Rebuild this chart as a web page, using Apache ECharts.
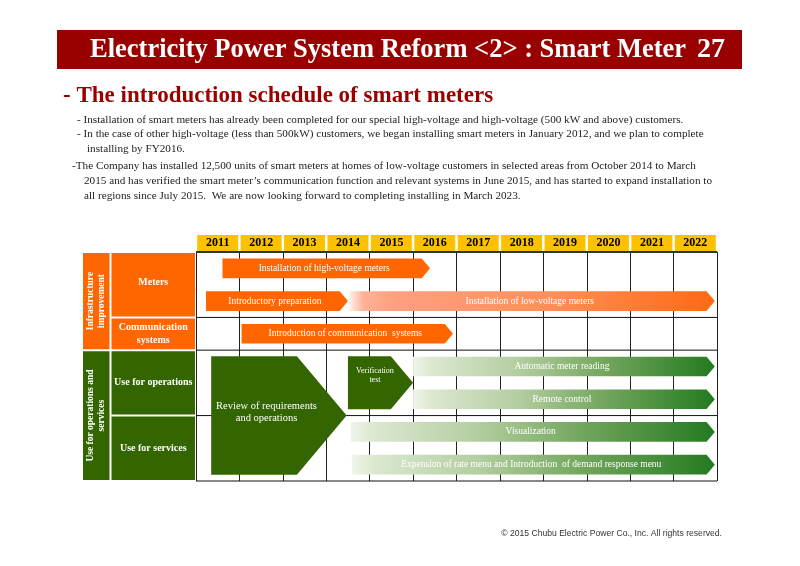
<!DOCTYPE html>
<html>
<head>
<meta charset="utf-8">
<script src="https://cdn.jsdelivr.net/npm/echarts@6/dist/echarts.min.js"></script>
<style>
  html, body { margin: 0; padding: 0; background: #fff; }
  #chart { width: 800px; height: 566px; }
</style>
</head>
<body>
<div id="chart"></div>
<script>
// schedule columns (fiscal years)
const years = ['2011', '2012', '2013', '2014', '2015', '2016', '2017', '2018', '2019', '2020', '2021', '2022']

// left-hand labels: groups -> rows -> lanes
const groupLabels = ['Infrastructure\nimprovement', 'Use for operations and\nservices']
const groupRowCount = [2, 2]
const rowLabels = ['Meters', 'Communication\nsystems', 'Use for operations', 'Use for services']
const rowLanes = [2, 1, 2, 2]

// tasks (start / end in years, lane index, lanes spanned)
const taskNames = [
  'Installation of high-voltage meters',
  'Introductory preparation',
  'Installation of low-voltage meters',
  'Introduction of communication  systems',
  'Review of requirements\nand operations',
  'Verification\ntest',
  'Automatic meter reading',
  'Remote control',
  'Visualization',
  'Expension of rate menu and Introduction  of demand response menu'
]
const taskStart = [2011.61, 2011.23, 2014.52, 2012.05, 2011.35, 2014.5, 2016.0, 2016.0, 2014.56, 2014.59]
const taskEnd = [2016.39, 2014.5, 2022.95, 2016.92, 2014.47, 2016.0, 2022.95, 2022.95, 2022.95, 2022.95]
const taskLane = [0, 1, 1, 2, 3, 3, 3, 4, 5, 6]
const taskSpan = [1, 1, 1, 1, 4, 2, 1, 1, 1, 1]
const taskKind = ['orange', 'orange', 'orangeFade', 'orange', 'green', 'green', 'greenFade', 'greenFade', 'greenFade', 'greenFade']

const noteLines = [
  '- Installation of smart meters has already been completed for our special high-voltage and high-voltage (500 kW and above) customers.',
  '- In the case of other high-voltage (less than 500kW) customers, we began installing smart meters in January 2012, and we plan to complete',
  'installing by FY2016.',
  '-The Company has installed 12,500 units of smart meters at homes of low-voltage customers in selected areas from October 2014 to March',
  '2015 and has verified the smart meter\u2019s communication function and relevant systems in June 2015, and has started to expand installation to',
  'all regions since July 2015.  We are now looking forward to completing installing in March 2023.'
]

const SERIF = '"Liberation Serif", "Times New Roman", serif'
const ORANGE = '#FF6600'
const GREEN = '#336600'
const fills = {
  orange: ORANGE,
  green: GREEN,
  orangeFade: {
    type: 'linear', x: 0, y: 0, x2: 1, y2: 0,
    colorStops: [
      { offset: 0, color: '#FFF4EE' },
      { offset: 0.04, color: '#FFB295' },
      { offset: 0.12, color: '#FFA080' },
      { offset: 0.55, color: '#FF8E58' },
      { offset: 1, color: '#FF6A12' }
    ]
  },
  greenFade: {
    type: 'linear', x: 0, y: 0, x2: 1, y2: 0,
    colorStops: [
      { offset: 0, color: '#F0F5EA' },
      { offset: 0.06, color: '#DCE8D0' },
      { offset: 0.35, color: '#B3CDA0' },
      { offset: 0.65, color: '#6FA45A' },
      { offset: 1, color: '#237A20' }
    ]
  }
}

const laneTotal = rowLanes.reduce((a, b) => a + b, 0)
const rowStarts = []
rowLanes.reduce((acc, n) => { rowStarts.push(acc); return acc + n }, 0)
const boundaries = rowStarts.concat([laneTotal])

const taskData = taskNames.map((name, i) => [taskStart[i], taskEnd[i], taskLane[i], taskSpan[i], i])

const cellData = []
let r = 0
groupLabels.forEach((g, gi) => {
  const first = r
  const last = r + groupRowCount[gi]
  cellData.push([0, 1, rowStarts[first], boundaries[last], 'group', gi])
  for (let k = first; k < last; k++) {
    cellData.push([1, 4, rowStarts[k], boundaries[k + 1], 'row', k])
  }
  r = last
})

function renderTask (params, api) {
  const i = api.value(4)
  const pad = taskSpan[i] > 1 ? 0.19 : 0.2
  const a = api.coord([api.value(0), api.value(2) + pad])
  const b = api.coord([api.value(1), api.value(2) + api.value(3) - pad])
  const h = b[1] - a[1]
  const head = h * 0.42
  const xb = b[0] - head
  const ym = (a[1] + b[1]) / 2
  const big = taskSpan[i] > 1
  const fontSize = taskSpan[i] === 4 ? 10.5 : (taskSpan[i] === 2 ? 8 : 9.5)
  return {
    type: 'group',
    children: [{
      type: 'polygon',
      shape: { points: [[a[0], a[1]], [xb, a[1]], [b[0], ym], [xb, b[1]], [a[0], b[1]]] },
      style: { fill: fills[taskKind[i]] }
    }, {
      type: 'text',
      style: {
        text: taskNames[i],
        x: (a[0] + b[0] - head / 2) / 2,
        y: big ? ym - (taskSpan[i] === 4 ? 3 : 7) : ym,
        align: 'center',
        verticalAlign: 'middle',
        fill: '#fff',
        font: fontSize + 'px ' + SERIF,
        lineHeight: taskSpan[i] === 4 ? 12 : 9
      }
    }]
  }
}

function renderCell (params, api) {
  const a = api.coord([api.value(0), api.value(2)])
  const b = api.coord([api.value(1), api.value(3)])
  const kind = api.value(4)
  const idx = api.value(5)
  const isGroup = kind === 'group'
  const gi = isGroup ? idx : (idx < groupRowCount[0] ? 0 : 1)
  const inset = 1
  const x = a[0] + inset
  const y = a[1] + inset
  const w = b[0] - a[0] - inset * 2
  const h = b[1] - a[1] - inset * 2
  const cx = x + w / 2
  const cy = y + h / 2
  return {
    type: 'group',
    children: [{
      type: 'rect',
      shape: { x, y, width: w, height: h },
      style: { fill: gi === 0 ? ORANGE : GREEN }
    }, {
      type: 'text',
      x: cx,
      y: isGroup ? cy : cy - (idx === 0 ? 2 : 0),
      rotation: isGroup ? Math.PI / 2 : 0,
      style: {
        text: isGroup ? groupLabels[idx] : rowLabels[idx],
        x: 0,
        y: 0,
        align: 'center',
        verticalAlign: 'middle',
        fill: '#fff',
        font: (isGroup ? 'bold 9.5px ' : 'bold 10px ') + SERIF,
        lineHeight: isGroup ? 11 : 13
      }
    }]
  }
}

function renderRowLine (params, api) {
  const y = api.value(0)
  const a = api.coord([2011, y])
  const b = api.coord([2023, y])
  const top = y === 0
  return {
    type: 'line',
    shape: { x1: a[0], y1: a[1], x2: b[0], y2: b[1] },
    style: { stroke: top ? '#333' : '#111', lineWidth: top ? 2 : 1 }
  }
}

const noteX = [77, 77, 87, 72, 84, 84]
const noteY = [120, 134.5, 149, 166, 181, 196]

const graphic = [
  { type: 'rect', shape: { x: 57, y: 30, width: 685, height: 39 }, style: { fill: '#990000' } },
  {
    type: 'text', x: 90, y: 50,
    style: { text: 'Electricity Power System Reform <2> : Smart Meter', font: 'bold 26.5px ' + SERIF, fill: '#fff', verticalAlign: 'middle' }
  },
  {
    type: 'text', x: 697, y: 50,
    style: { text: '27', font: 'bold 28px ' + SERIF, fill: '#fff', verticalAlign: 'middle' }
  },
  {
    type: 'text', x: 63, y: 96,
    style: { text: '- The introduction schedule of smart meters', font: 'bold 23px ' + SERIF, fill: '#990000', verticalAlign: 'middle' }
  },
  {
    type: 'text', x: 722, y: 534,
    style: { text: '\u00A9 2015 Chubu Electric Power Co., Inc. All rights reserved.', font: '8.6px "Liberation Sans", Arial, sans-serif', fill: '#333', align: 'right', verticalAlign: 'middle' }
  }
].concat(noteLines.map((t, i) => ({
  type: 'text', x: noteX[i], y: noteY[i],
  style: { text: t, font: '11.2px ' + SERIF, fill: '#222', verticalAlign: 'middle' }
})))

const chart = echarts.init(document.getElementById('chart'), null, { renderer: 'canvas' })
chart.setOption({
  animation: false,
  backgroundColor: '#fff',
  graphic,
  grid: [
    { left: 196, right: 83, top: 252, bottom: 85 },
    { left: 82, width: 114, top: 252, bottom: 85 }
  ],
  xAxis: [{
    type: 'value', gridIndex: 0, min: 2011, max: 2023, interval: 1, position: 'bottom',
    axisLabel: { show: false }, axisLine: { show: false }, axisTick: { show: false },
    splitLine: { show: true, lineStyle: { color: '#222', width: 1 } }
  }, {
    type: 'category', gridIndex: 0, position: 'top', data: years, boundaryGap: true,
    axisLine: { show: false }, axisTick: { show: false }, splitLine: { show: false },
    axisLabel: {
      interval: 0, margin: 1, color: '#000', fontFamily: SERIF, fontWeight: 'bold', fontSize: 12,
      backgroundColor: '#FFC000', width: 41, height: 16, lineHeight: 16, align: 'center', padding: 0
    }
  }, {
    type: 'value', gridIndex: 1, min: 0, max: 4, show: false
  }],
  yAxis: [{
    type: 'value', gridIndex: 0, min: 0, max: laneTotal, inverse: true, show: false
  }, {
    type: 'value', gridIndex: 1, min: 0, max: laneTotal, inverse: true, show: false
  }],
  series: [{
    type: 'custom', xAxisIndex: 0, yAxisIndex: 0, z: 1,
    renderItem: renderRowLine,
    data: boundaries.map(v => [v])
  }, {
    type: 'custom', xAxisIndex: 0, yAxisIndex: 0, z: 2,
    renderItem: renderTask,
    data: taskData
  }, {
    type: 'custom', xAxisIndex: 2, yAxisIndex: 1, z: 2,
    renderItem: renderCell,
    data: cellData
  }]
})
</script>
</body>
</html>
